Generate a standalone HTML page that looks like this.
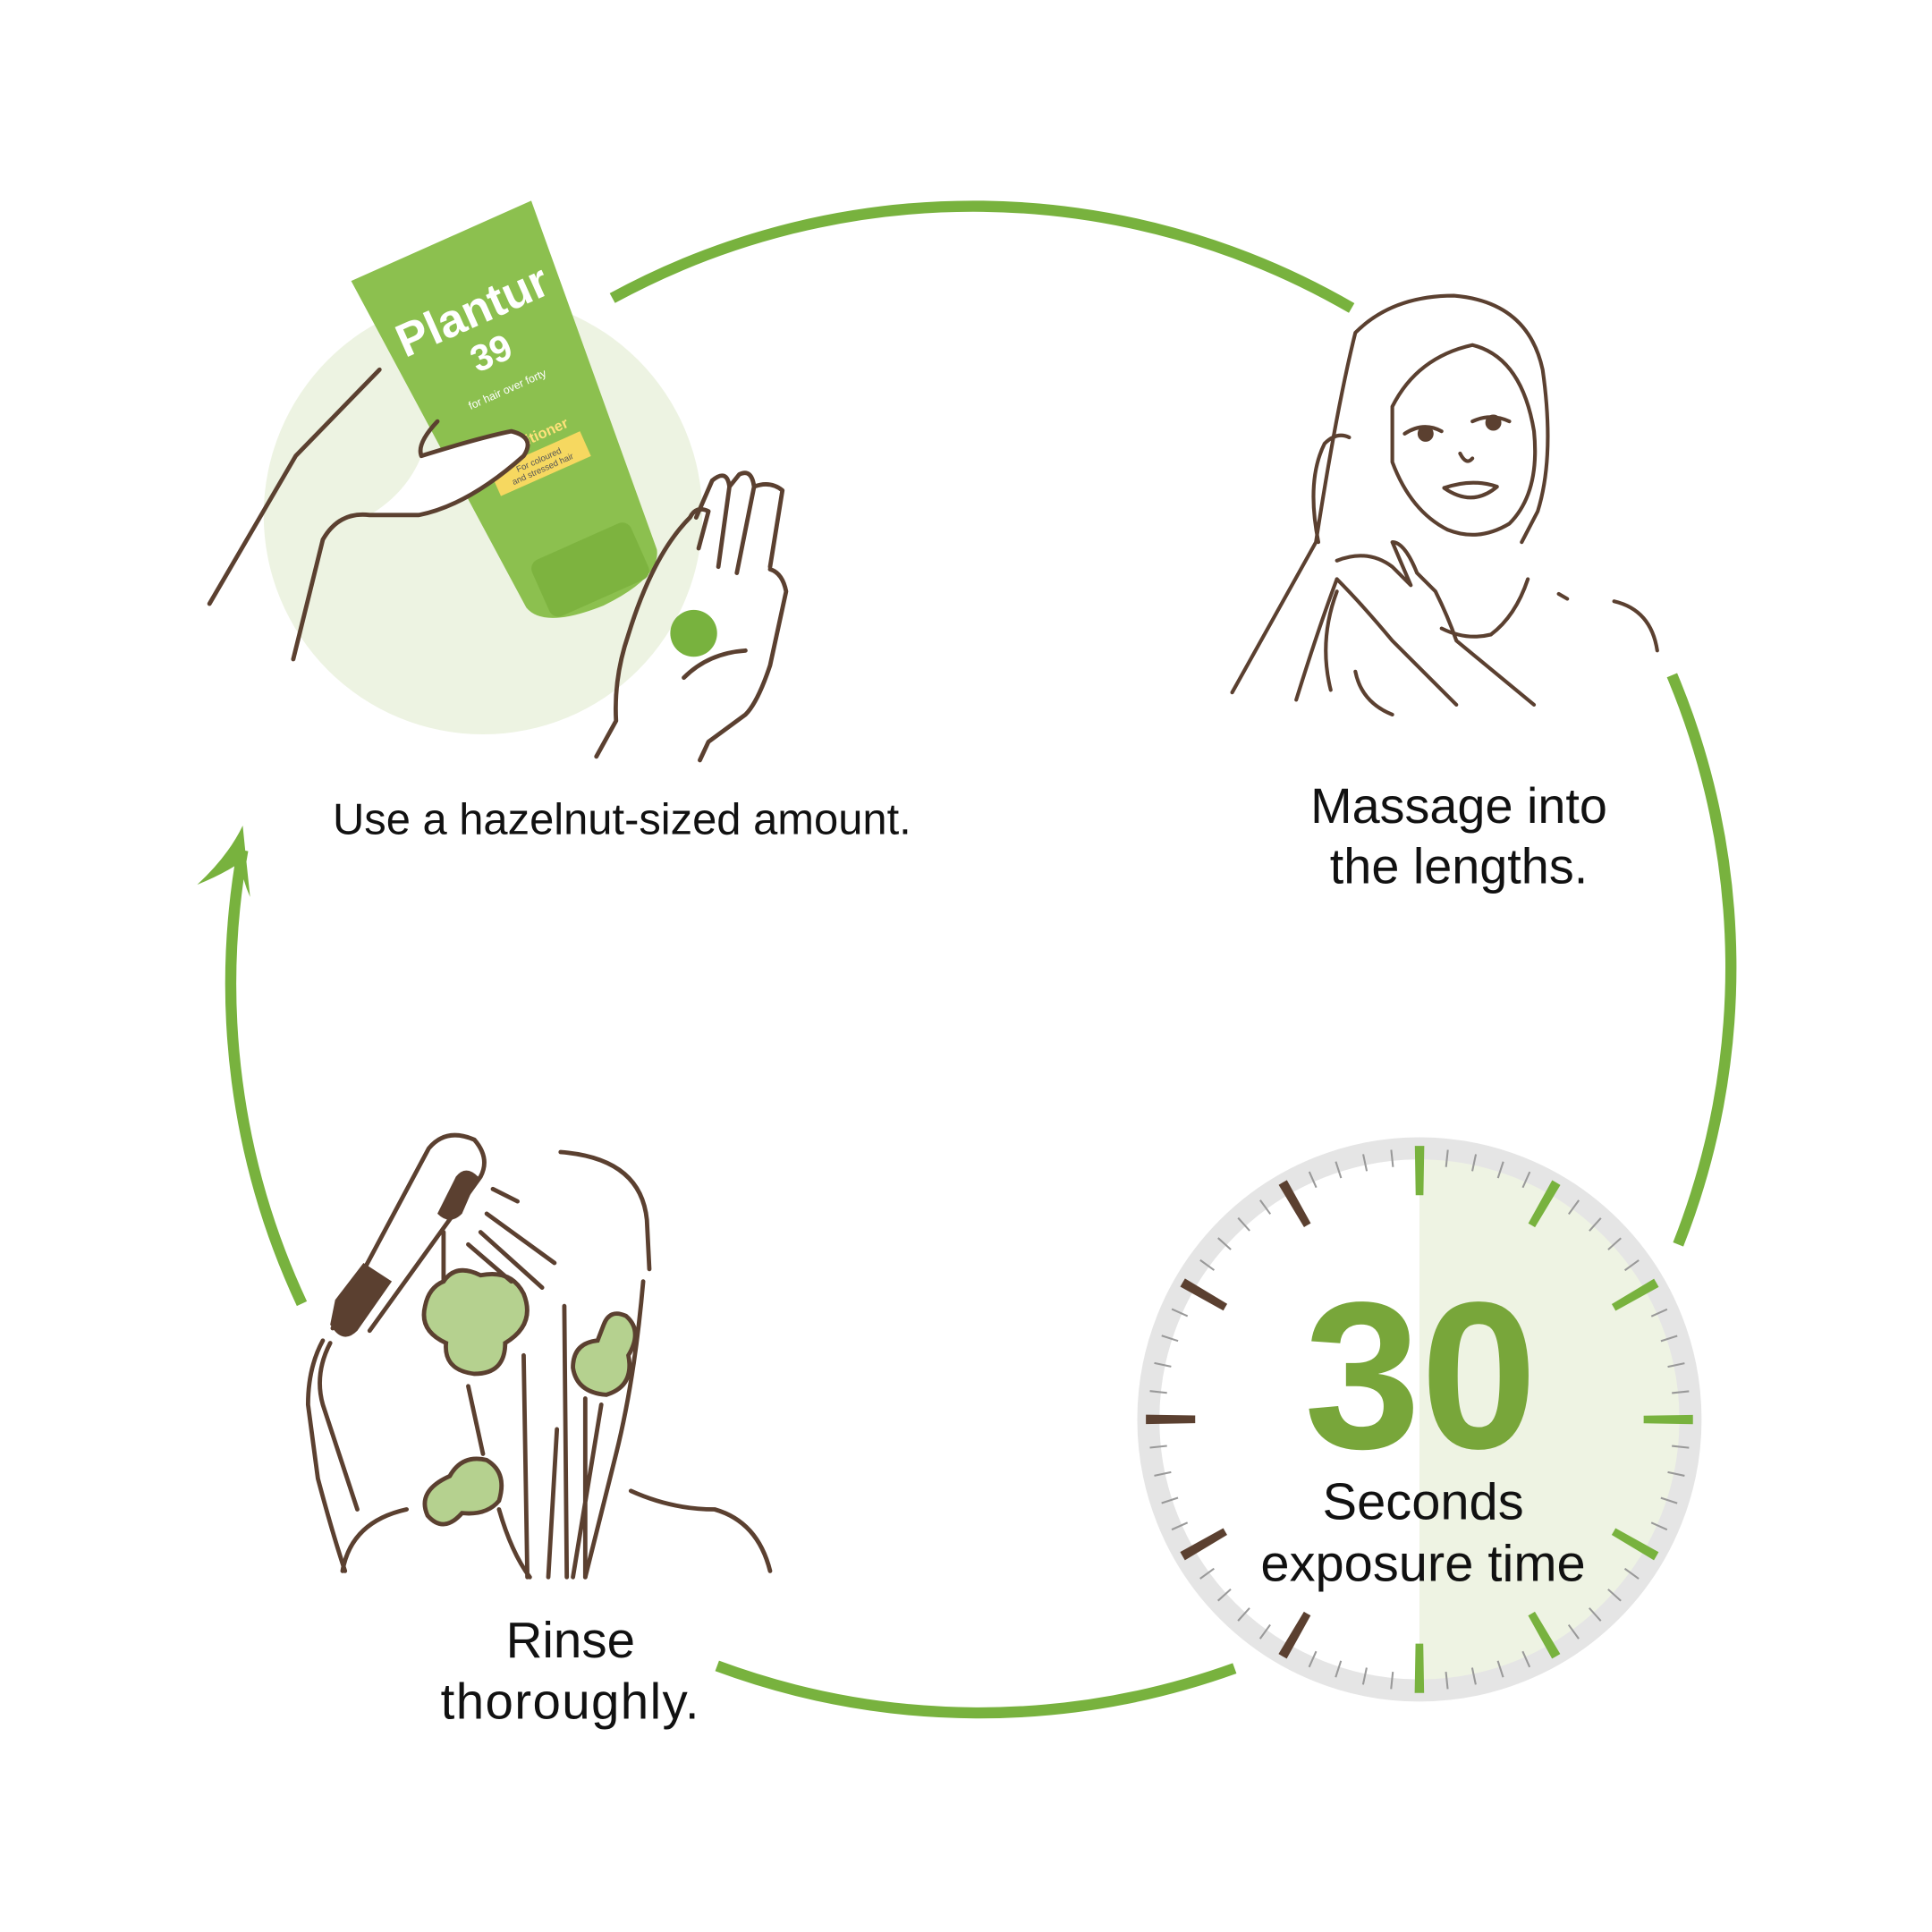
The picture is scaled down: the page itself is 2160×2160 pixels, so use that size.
<!DOCTYPE html>
<html><head><meta charset="utf-8"><style>
html,body{margin:0;padding:0;background:#fff}
svg{display:block}
text{font-family:"Liberation Sans",sans-serif}
</style></head><body>
<svg width="2160" height="2160" viewBox="0 0 1568 1568" xmlns="http://www.w3.org/2000/svg">
<defs>
<clipPath id="lh"><rect x="0" y="0" width="1140" height="1568"/></clipPath>
<clipPath id="rh"><rect x="1140" y="0" width="428" height="1568"/></clipPath>
</defs>
<g fill="none" stroke="#78b23e" stroke-width="9">
<path d="M497,242 A612,612 0 0 1 1097,250"/>
<path d="M1357,548 A612,612 0 0 1 1362,1010"/>
<path d="M1002,1354 A612,612 0 0 1 582,1352"/>
<path d="M245,1058 A612,612 0 0 1 197,690"/>
</g>
<path d="M160,718 Q185,695 197,670 Q200,700 203,728 Q197,715 195,700 Q180,710 160,718Z" fill="#78b23e"/>

<circle cx="392" cy="418" r="178" fill="#edf3e2"/>
<g transform="translate(285,228) rotate(-24)">
<path d="M0,0 L160,0 L138,300 Q132,322 80,324 Q28,322 22,300 Z" fill="#8cc04f"/>
<rect x="38" y="268" width="88" height="50" rx="8" fill="#7db33f"/>
<text x="80" y="75" fill="#fff" font-size="38" font-weight="bold" text-anchor="middle" font-family="Liberation Serif,serif">Plantur</text>
<text x="80" y="110" fill="#fff" font-size="30" font-weight="bold" text-anchor="middle">39</text>
<text x="80" y="135" fill="#fff" font-size="9" text-anchor="middle">for hair over forty</text>
<text x="80" y="180" fill="#ffe27a" font-size="12" font-weight="bold" text-anchor="middle">Conditioner</text>
<rect x="40" y="187" width="80" height="22" fill="#f6d860"/>
<text x="80" y="197" fill="#555" font-size="7" text-anchor="middle">For coloured</text>
<text x="80" y="205" fill="#555" font-size="7" text-anchor="middle">and stressed hair</text>
</g>
<circle cx="563" cy="514" r="19" fill="#78b23e"/>
<path d="M342,370 Q390,355 415,350 Q435,355 425,370 Q380,410 340,418 L300,418 Q330,400 342,370Z" fill="#fff"/>
<g fill="none" stroke="#5b4030" stroke-width="3.5" stroke-linecap="round" stroke-linejoin="round">
<path d="M170,490 L240,370 L308,300"/>
<path d="M238,535 L262,438 Q275,415 300,418 L340,418 Q380,410 425,370 Q435,355 415,350 Q390,355 342,370 Q338,360 355,342"/>
<path d="M484,614 L500,585 Q498,550 510,515 Q530,450 560,420 Q565,410 575,415 L567,445 M565,420 L578,390 Q590,380 592,395 L583,460 M592,395 L600,385 Q610,380 612,395 L598,465 M612,395 Q625,390 635,398 L625,460 M625,462 Q635,465 638,480 L625,540 Q615,570 605,580 L575,602 L568,617"/>
<path d="M555,550 Q575,530 605,528"/>
</g>
<text x="270" y="677" font-size="35.5" fill="#111">Use a hazelnut-sized amount.</text>

<g fill="none" stroke="#5b4030" stroke-width="3" stroke-linecap="round" stroke-linejoin="round">
<path d="M1000,562 L1068,440 Q1085,330 1100,270 Q1130,240 1180,240 Q1240,245 1252,300 Q1262,370 1248,415 L1235,440"/>
<path d="M1130,330 Q1150,290 1195,280 Q1235,290 1245,350 Q1250,400 1225,425 Q1200,440 1175,430 Q1145,415 1130,375 Z"/>
<path d="M1140,352 Q1155,342 1170,350 M1195,342 Q1210,335 1225,342"/>
<circle cx="1157" cy="352" r="5" fill="#5b4030"/><circle cx="1212" cy="343" r="5" fill="#5b4030"/>
<path d="M1185,368 Q1190,378 1195,372"/>
<path d="M1172,396 Q1195,388 1215,395 Q1195,412 1172,396Z"/>
<path d="M1052,568 Q1070,510 1085,470 M1080,560 Q1070,520 1085,480 M1100,545 Q1105,570 1130,580"/>
<path d="M1085,455 Q1110,445 1130,460 L1145,475 L1130,440 Q1140,440 1150,465 L1165,480 Q1175,500 1182,520 L1245,572"/>
<path d="M1085,470 Q1105,490 1130,520 L1182,572"/>
<path d="M1070,440 Q1060,390 1075,360 Q1085,350 1095,355"/>
<path d="M1240,470 Q1230,500 1210,515 Q1190,520 1170,510"/>
<path d="M1265,482 L1272,486 M1310,488 Q1340,495 1345,528"/>
</g>
<text x="1184" y="668" font-size="40.5" fill="#111" text-anchor="middle">Massage into</text>
<text x="1184" y="717" font-size="40.5" fill="#111" text-anchor="middle">the lengths.</text>

<path d="M1152,924 A228,228 0 0 1 1152,1380 Z" fill="#eef3e3"/>
<circle cx="1152" cy="1152" r="220" fill="none" stroke="#e5e5e5" stroke-width="18"/>
<circle cx="1152" cy="1152" r="213" fill="none" stroke="#999" stroke-width="14" stroke-dasharray="1.5 20.805" stroke-dashoffset="0.75"/>
<g clip-path="url(#rh)"><circle cx="1152" cy="1152" r="202" fill="none" stroke="#78b23e" stroke-width="40" stroke-dasharray="7 98.767" stroke-dashoffset="3.5"/></g>
<g clip-path="url(#lh)"><circle cx="1152" cy="1152" r="202" fill="none" stroke="#5b4030" stroke-width="40" stroke-dasharray="7 98.767" stroke-dashoffset="3.5"/></g>
<text x="1153" y="1175" font-size="170" font-weight="bold" fill="#78a63a" text-anchor="middle">30</text>
<text x="1155" y="1233" font-size="42" fill="#111" text-anchor="middle">Seconds</text>
<text x="1155" y="1283" font-size="42" fill="#111" text-anchor="middle">exposure time</text>

<g fill="#b5d18f" stroke="#5b4030" stroke-width="3.5">
<path d="M360,1040 Q370,1025 390,1035 Q415,1030 425,1050 Q435,1075 410,1090 Q410,1115 385,1115 Q360,1112 362,1090 Q340,1080 345,1060 Q348,1045 360,1040Z"/>
<path d="M490,1075 Q495,1062 508,1068 Q522,1080 510,1100 Q515,1125 492,1132 Q468,1130 465,1110 Q465,1090 485,1088 Z"/>
<path d="M365,1198 Q375,1180 395,1185 Q412,1195 405,1218 Q395,1230 375,1228 Q360,1245 347,1230 Q338,1210 365,1198Z"/>
</g>
<g fill="none" stroke="#5b4030" stroke-width="3.5" stroke-linecap="round" stroke-linejoin="round">
<path d="M270,1078 L348,932 Q362,915 385,925 Q398,940 390,955 L300,1080"/>
<path d="M290,1225 L262,1140 Q255,1115 268,1090 M280,1275 Q270,1245 258,1200 L250,1140 Q250,1110 262,1088"/>
<path d="M400,965 L420,975 M395,985 L450,1025 M390,1000 L440,1045 M380,1010 L415,1040"/>
<path d="M455,935 Q520,940 525,990 L527,1030 M522,1040 Q515,1120 500,1180 L475,1280"/>
<path d="M278,1275 Q285,1235 330,1225 M512,1210 Q545,1225 580,1225 Q615,1235 625,1275"/>
<path d="M360,1000 L360,1040 M380,1125 L392,1180 M405,1225 Q415,1260 430,1280 M425,1100 L428,1280 M458,1060 L460,1280 M475,1135 L475,1280 M452,1160 L445,1280 M488,1140 L465,1280"/>
</g>
<path d="M268,1075 L272,1055 L295,1025 L318,1040 L290,1080 Q278,1092 268,1075Z" fill="#5b4030"/>
<path d="M355,985 L370,955 Q378,945 388,955 L375,985 Q365,995 355,985Z" fill="#5b4030"/>
<text x="463" y="1345" font-size="41" fill="#111" text-anchor="middle">Rinse</text>
<text x="463" y="1395" font-size="41" fill="#111" text-anchor="middle" letter-spacing="1">thoroughly.</text>
</svg>
</body></html>
